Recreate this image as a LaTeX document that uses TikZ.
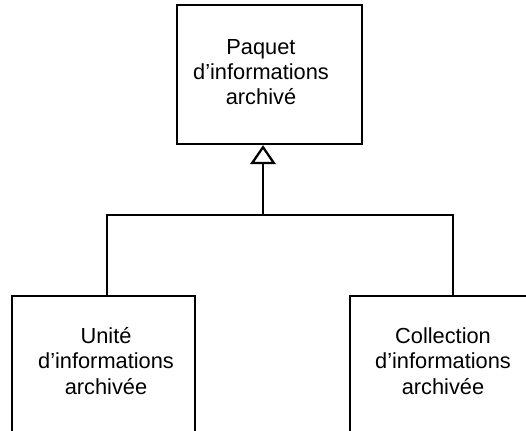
\documentclass[tikz,border=0pt]{standalone}
\usepackage{fontspec}
\setmainfont{Liberation Sans}
\usetikzlibrary{arrows.meta}
\begin{document}
\begin{tikzpicture}[x=1pt,y=-1pt,
  box/.style={draw=black,line width=2.3pt,fill=none,inner sep=0pt},
  lbl/.style={align=center,inner sep=0pt,font=\fontsize{21.8pt}{25.4pt}\selectfont,anchor=base},
  conn/.style={draw=black,line width=2.3pt},
  gen/.style={conn,-{Triangle[open,length=19pt,width=25.5pt,line width=2.3pt]}}]
\useasboundingbox (0,0) rectangle (526,430);
\clip (0,0) rectangle (526,430);
\fill[white] (0,0) rectangle (526,430);
\node[box,minimum width=185pt,minimum height=139pt] (top) at (269.5,74.5) {};
\node[box,minimum width=183pt,minimum height=170pt] (unit) at (103.5,381) {};
\node[box,minimum width=206pt,minimum height=170pt] (coll) at (453,381) {};
\node[lbl] (toptext) at (261,105) {Paquet\\d’informations\\archivé};
\node[lbl] (unittext) at (106,394) {Unité\\d’informations\\archivée};
\node[lbl] (colltext) at (443,394) {Collection\\d’informations\\archivée};
\coordinate (stem) at (263,215);
\coordinate (ul) at (107,215);
\coordinate (cr) at (453,215);
\draw[conn] (unit.north -| ul) -- (ul) -- (cr) -- (coll.north -| cr);
\draw[gen] (stem) -- (top.south -| stem);
\end{tikzpicture}
\end{document}
